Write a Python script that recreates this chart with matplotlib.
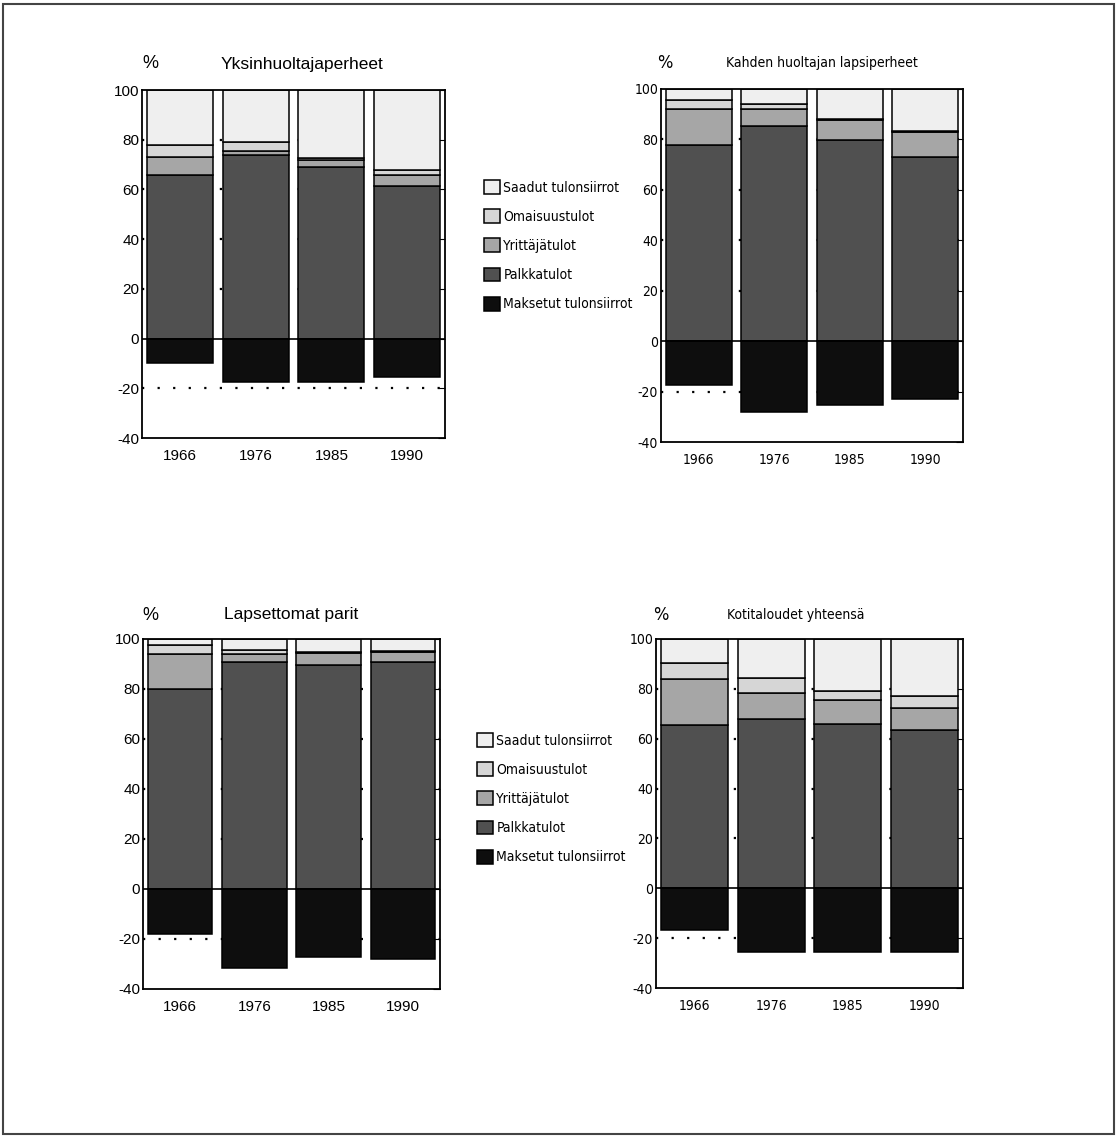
import matplotlib
matplotlib.use("Agg")
import matplotlib.pyplot as plt
from matplotlib.patches import Rectangle

years = ["1966", "1976", "1985", "1990"]
series = ["Palkkatulot", "Yrittäjätulot", "Omaisuustulot", "Saadut tulonsiirrot"]
neg_name = "Maksetut tulonsiirrot"

# segment heights; Saadut fills the rest up to 100
yks_palkka = [66, 74, 69, 61.5]
yks_yritt = [7, 1.5, 3, 4.2]
yks_omais = [5, 3.5, 0.5, 2.3]
yks_maks = [-9.7, -17.3, -17.3, -15.3]

kah_palkka = [77.8, 85.3, 79.8, 72.9]
kah_yritt = [14.2, 6.7, 7.9, 10.1]
kah_omais = [3.6, 2.0, 0.3, 0.3]
kah_maks = [-17.5, -28.3, -25.4, -23.1]

lap_palkka = [80, 91, 89.5, 91]
lap_yritt = [14, 3, 4.9, 4]
lap_omais = [3.7, 1.7, 0.3, 0.3]
lap_maks = [-18, -31.5, -27.3, -27.9]

kot_palkka = [65.6, 68, 65.8, 63.6]
kot_yritt = [18.3, 10.4, 9.6, 8.7]
kot_omais = [6.6, 5.8, 3.6, 4.7]
kot_maks = [-16.9, -25.6, -25.6, -25.6]

colors = {"Palkkatulot": "#505050", "Yrittäjätulot": "#a6a6a6",
          "Omaisuustulot": "#d6d6d6", "Saadut tulonsiirrot": "#efefef",
          neg_name: "#0e0e0e"}

W, H = 1119, 1138
fig = plt.figure(figsize=(W / 100, H / 100), dpi=100)
fig.patches.append(Rectangle((3 / W, 4 / H), 1111 / W, 1130 / H, transform=fig.transFigure,
                             fill=False, edgecolor="#444444", linewidth=1.5))

reg = dict(family=["Liberation Sans", "DejaVu Sans"])
narrow = dict(family=["DejaVu Sans"], stretch="condensed")

panels = [
    ("Yksinhuoltajaperheet", yks_palkka, yks_yritt, yks_omais, yks_maks,
     (142, 445, 90, 438), (150, 302, 64), reg, 12.5, 11),
    ("Kahden huoltajan lapsiperheet", kah_palkka, kah_yritt, kah_omais, kah_maks,
     (661, 963, 89, 442), (665, 822, 63), narrow, 10, 10),
    ("Lapsettomat parit", lap_palkka, lap_yritt, lap_omais, lap_maks,
     (143, 440, 639, 989), (150, 291, 615), reg, 12.5, 11),
    ("Kotitaloudet yhteensä", kot_palkka, kot_yritt, kot_omais, kot_maks,
     (656, 963, 639, 988), (661, 796, 615), narrow, 10, 10),
]

x = range(len(years))
handles_all = []
for title, palkka, yritt, omais, maks, (l, r, t, b), (px, tx, ty), fnt, fs, tfs in panels:
    ax = fig.add_axes([l / W, 1 - b / H, (r - l) / W, (b - t) / H])
    ax.set_xlim(-0.5, 3.5)
    ax.set_ylim(-40, 100)
    for g in [-20, 20, 40, 60, 80]:
        ax.axhline(g, color="black", linewidth=1.6, linestyle=(0, (1, 6)), zorder=0)
    bottom = [0, 0, 0, 0]
    handles = {}
    saadut = [100 - p - y - o for p, y, o in zip(palkka, yritt, omais)]
    for name, vals in zip(series, [palkka, yritt, omais, saadut]):
        bc = ax.bar(x, vals, bottom=bottom, width=0.87, color=colors[name],
                    edgecolor="black", linewidth=1.1, zorder=2)
        handles[name] = bc
        bottom = [a + v for a, v in zip(bottom, vals)]
    handles[neg_name] = ax.bar(x, maks, width=0.87, color=colors[neg_name],
                               edgecolor="black", linewidth=1.1, zorder=2)
    ax.axhline(0, color="black", linewidth=1.2, zorder=3)
    ax.set_xticks(list(x))
    ax.set_xticklabels(years, fontsize=tfs, **fnt)
    ax.set_yticks([-40, -20, 0, 20, 40, 60, 80, 100])
    ax.set_yticklabels(["-40", "-20", "0", "20", "40", "60", "80", "100"], fontsize=tfs, **fnt)
    ax.tick_params(axis="x", length=0, pad=8)
    ax.tick_params(axis="y", left=False, right=True, direction="in", length=5, pad=2)
    for s in ax.spines.values():
        s.set_linewidth(1.3)
    fig.text(px / W, 1 - ty / H, "%", ha="center", va="center", fontsize=13, **fnt)
    fig.text(tx / W, 1 - ty / H, title, ha="center", va="center", fontsize=fs, **fnt)
    handles_all.append(handles)

order = ["Saadut tulonsiirrot", "Omaisuustulot", "Yrittäjätulot", "Palkkatulot", neg_name]
for h, (lx, ly) in zip([handles_all[0], handles_all[2]], [(484, 180), (477, 733)]):
    lg = fig.legend([h[n] for n in order], order, loc="upper left",
                    bbox_to_anchor=(lx / W, 1 - ly / H), frameon=False,
                    handlelength=1.15, handleheight=1.15, handletextpad=0.25,
                    labelspacing=1.05, borderaxespad=0, borderpad=0,
                    prop={"family": ["DejaVu Sans"], "stretch": "condensed", "size": 10})
    for p in lg.get_patches():
        p.set_edgecolor("black")

fig.savefig("out.png", dpi=100)
